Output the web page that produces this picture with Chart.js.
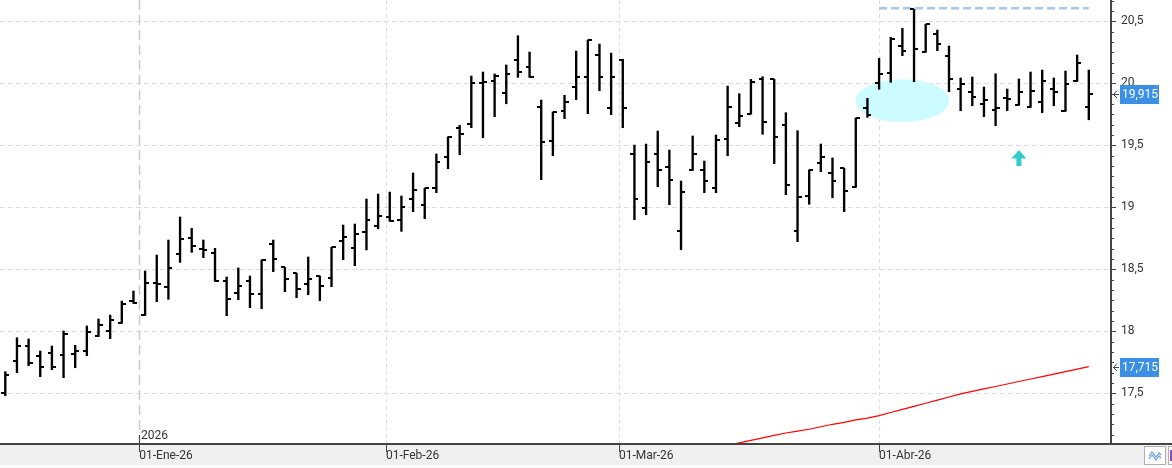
<!DOCTYPE html>
<html lang="es">
<head>
  <meta charset="UTF-8"/>
  <title>Barras OHLC con media móvil</title>
  <script src="https://cdn.jsdelivr.net/npm/chart.js"></script>
  <style>
    * { box-sizing: border-box; margin: 0; padding: 0; }
    body { background: #fff; }
    #wrap { position: relative; width: 1172px; height: 468px; }
  </style>
</head>
<body>
  <div id="wrap"><canvas id="chart"></canvas></div>

  <script>
    // one bar per trading session, index 0 = last sessions of Dec-25
    const opens = [
      17.500, 17.758, 17.881, 17.801, 17.823, 17.806, 17.815, 17.839, 17.962, 18.000,
      18.065, 18.244, 18.129, 18.390, 18.355, 18.623, 18.750, 18.661, 18.629, 18.403,
      18.306, 18.403, 18.298, 18.702, 18.516, 18.468, 18.379, 18.446, 18.427, 18.726,
      18.669, 18.801, 18.847, 18.919, 18.895, 19.065, 19.019, 19.153, 19.406, 19.637,
      19.669, 20.002, 20.016, 19.922, 20.188, 20.129, 19.806, 19.532, 19.777, 19.968,
      20.048, 20.231, 19.798, 20.190, 19.427, 18.994, 19.427, 19.323, 18.806, 19.298,
      19.298, 19.153, 19.548, 19.677, 19.752, 20.032, 20.032, 19.661, 18.806, 19.089,
      19.355, 19.274, 19.315, 19.166, 19.798, 20.002, 20.083, 20.298, 20.597, 20.250,
      20.398, 20.218, 19.952, 19.927, 19.831, 19.782, 19.879, 19.823, 19.806, 19.847,
      19.952, 19.774, 20.016, 19.806
    ];
    const highs = [
      17.674, 17.948, 17.938, 17.841, 17.881, 18.002, 17.887, 18.043, 18.099, 18.131,
      18.244, 18.325, 18.486, 18.615, 18.736, 18.922, 18.831, 18.736, 18.669, 18.438,
      18.511, 18.446, 18.575, 18.736, 18.516, 18.468, 18.599, 18.446, 18.677, 18.857,
      18.865, 19.067, 19.107, 19.123, 19.091, 19.277, 19.153, 19.430, 19.569, 19.661,
      20.059, 20.091, 20.075, 20.148, 20.384, 20.252, 19.865, 19.769, 19.903, 20.260,
      20.349, 20.317, 20.244, 20.194, 19.502, 19.510, 19.615, 19.462, 19.212, 19.575,
      19.373, 19.583, 19.978, 19.916, 20.032, 20.053, 20.032, 19.763, 19.618, 19.301,
      19.510, 19.398, 19.315, 19.720, 19.879, 20.202, 20.371, 20.444, 20.597, 20.476,
      20.430, 20.301, 20.043, 20.051, 19.970, 20.077, 19.954, 20.035, 20.091, 20.107,
      20.043, 20.099, 20.228, 20.107
    ];
    const lows = [
      17.481, 17.666, 17.723, 17.634, 17.690, 17.626, 17.706, 17.803, 17.957, 17.940,
      18.065, 18.226, 18.129, 18.239, 18.258, 18.556, 18.637, 18.594, 18.403, 18.126,
      18.255, 18.190, 18.182, 18.481, 18.319, 18.271, 18.295, 18.247, 18.360, 18.577,
      18.529, 18.656, 18.827, 18.887, 18.806, 18.965, 18.908, 19.118, 19.311, 19.424,
      19.642, 19.561, 19.731, 19.835, 20.048, 20.048, 19.223, 19.416, 19.715, 19.868,
      19.755, 19.940, 19.747, 19.642, 18.900, 18.940, 19.166, 19.021, 18.658, 19.298,
      19.118, 19.118, 19.416, 19.650, 19.752, 19.589, 19.352, 19.102, 18.723, 19.024,
      19.287, 19.077, 18.965, 19.161, 19.726, 19.952, 20.008, 20.223, 20.013, 20.250,
      20.263, 19.932, 19.779, 19.819, 19.731, 19.658, 19.779, 19.823, 19.806, 19.763,
      19.819, 19.774, 20.016, 19.706
    ];
    const closes = [
      17.648, 17.881, 17.742, 17.710, 17.710, 17.976, 17.839, 17.992, 18.048, 18.089,
      18.218, 18.226, 18.387, 18.379, 18.508, 18.742, 18.685, 18.655, 18.403, 18.258,
      18.363, 18.298, 18.575, 18.581, 18.422, 18.341, 18.422, 18.363, 18.677, 18.758,
      18.782, 18.895, 18.927, 18.892, 19.000, 19.137, 19.153, 19.363, 19.569, 19.589,
      20.000, 20.008, 20.056, 20.075, 20.089, 20.048, 19.524, 19.769, 19.847, 20.048,
      20.349, 20.051, 20.048, 19.798, 19.065, 19.363, 19.301, 19.218, 19.121, 19.427,
      19.210, 19.540, 19.806, 19.734, 20.008, 19.688, 19.565, 19.177, 19.083, 19.301,
      19.406, 19.210, 19.129, 19.720, 19.742, 20.073, 20.355, 20.258, 20.274, 20.476,
      20.317, 20.032, 19.994, 19.887, 19.863, 19.798, 19.871, 19.927, 19.935, 20.016,
      19.927, 19.994, 20.161, 19.915
    ];

    // long moving average, only visible from session 62 on (below the axis before)
    const maStart = 62;
    const maValues = [
      17.080, 17.100, 17.120, 17.140, 17.160, 17.180, 17.195, 17.210, 17.230, 17.250,
      17.265, 17.285, 17.300, 17.320, 17.345, 17.370, 17.395, 17.420, 17.445, 17.470,
      17.495, 17.515, 17.535, 17.555, 17.575, 17.595, 17.615, 17.635, 17.655, 17.675,
      17.695, 17.715
    ];

    // month ticks sit on calendar position between sessions
    const monthTicks = [11.5, 32.67, 52.67, 75];
    const monthLabels = ['01-Ene-26', '01-Feb-26', '01-Mar-26', '01-Abr-26'];
    const yearLabel = '2026';
    const yTicks = [17.5, 18, 18.5, 19, 19.5, 20, 20.5];

    // drawn marks in data units
    const resistance = { from: 75, to: 93, value: 20.605 };
    const zone = { x: 77, y: 19.86, dx: 4.03, dy: 0.173 };
    const upArrow = { x: 87, top: 19.462, bottom: 19.333 };

    const FONT_FAMILY = "Roboto, 'Open Sans', sans-serif";
    const fmt = v => String(v).replace('.', ',');

    function tickImage(side) {
      const c = document.createElement('canvas');
      c.width = 8; c.height = 2;
      const g = c.getContext('2d');
      g.fillStyle = '#000';
      g.fillRect(side === 'left' ? 0 : 4, 0, 4, 2);
      return c;
    }

    const idx = closes.map((_, i) => i);

    const decor = {
      id: 'decor',
      beforeDraw(chart) {
        const { ctx, width, height, chartArea: a } = chart;
        ctx.save();
        ctx.fillStyle = '#fff';
        ctx.fillRect(0, 0, width, height);
        ctx.fillStyle = '#f0f0f0';
        ctx.fillRect(0, a.bottom, width, 21);
        ctx.fillStyle = '#fafafa';
        ctx.fillRect(0, a.bottom + 21, width, height - a.bottom - 21);
        ctx.restore();
      },
      beforeDatasetsDraw(chart) {
        const { ctx, chartArea: a, scales: { x, y } } = chart;
        ctx.save();
        // horizontal grid
        ctx.lineWidth = 1;
        ctx.strokeStyle = '#dddddd';
        ctx.setLineDash([5, 3]);
        yTicks.forEach(v => {
          const py = Math.round(y.getPixelForValue(v)) + 0.5;
          ctx.beginPath(); ctx.moveTo(a.left, py); ctx.lineTo(a.right, py); ctx.stroke();
        });
        // month grid, the first one marks the year change
        monthTicks.forEach((v, i) => {
          const px = Math.round(x.getPixelForValue(v)) + 0.5;
          if (i === 0) {
            ctx.strokeStyle = '#cbcbcb'; ctx.lineWidth = 1.5; ctx.setLineDash([10, 5]);
          } else {
            ctx.strokeStyle = '#dedede'; ctx.lineWidth = 1; ctx.setLineDash([4, 3]);
          }
          ctx.beginPath(); ctx.moveTo(px, a.top); ctx.lineTo(px, a.bottom); ctx.stroke();
        });
        // highlighted zone
        const cx = x.getPixelForValue(zone.x), cy = y.getPixelForValue(zone.y);
        const rx = x.getPixelForValue(zone.x + zone.dx) - cx;
        const ry = cy - y.getPixelForValue(zone.y + zone.dy);
        ctx.fillStyle = '#ccfcff';
        ctx.beginPath(); ctx.ellipse(cx, cy, rx, ry, 0, 0, Math.PI * 2); ctx.fill();
        ctx.restore();
      },
      afterDraw(chart) {
        const { ctx, width, chartArea: a, scales: { x, y } } = chart;
        ctx.save();
        // axis lines
        ctx.fillStyle = '#444';
        ctx.fillRect(a.right, a.top, 2, a.bottom - a.top);
        ctx.fillRect(0, a.bottom - 1, width, 2);
        // y tick marks every 1/12
        for (let k = Math.ceil(y.min * 12); k <= Math.floor(y.max * 12); k++) {
          const py = Math.round(y.getPixelForValue(k / 12));
          ctx.fillRect(a.right, py, k % 6 === 0 ? 6 : 4, 1);
        }
        // x tick marks
        monthTicks.forEach(v => {
          const px = Math.round(x.getPixelForValue(v));
          ctx.fillRect(px, a.bottom, 1, 8);
        });
        const yearX = Math.round(x.getPixelForValue(monthTicks[0]));
        ctx.fillRect(yearX, a.bottom - 9, 1, 9);
        ctx.font = '12px ' + FONT_FAMILY;
        ctx.fillStyle = '#333';
        ctx.textAlign = 'left';
        ctx.textBaseline = 'middle';
        ctx.fillText(yearLabel, yearX + 2, a.bottom - 8);

        // arrow
        const ax = x.getPixelForValue(upArrow.x);
        const at = y.getPixelForValue(upArrow.top), ab = y.getPixelForValue(upArrow.bottom);
        ctx.fillStyle = '#33cccc';
        ctx.beginPath();
        ctx.moveTo(ax, at);
        ctx.lineTo(ax + 7.5, at + 8.5);
        ctx.lineTo(ax - 7.5, at + 8.5);
        ctx.closePath(); ctx.fill();
        ctx.fillRect(ax - 2.5, at + 8, 5, ab - at - 8);

        // last value tags
        const tag = (value) => {
          const py = Math.round(y.getPixelForValue(value));
          ctx.fillStyle = '#3a8fe6';
          ctx.fillRect(a.right + 10, py - 9, 39, 19);
          ctx.fillStyle = '#fff';
          ctx.font = '12px ' + FONT_FAMILY;
          ctx.textBaseline = 'middle';
          ctx.fillText(fmt(value), a.right + 12, py + 1);
          ctx.strokeStyle = '#444';
          ctx.lineWidth = 1;
          ctx.beginPath();
          ctx.moveTo(a.right + 7, py - 3.5); ctx.lineTo(a.right + 3.5, py + 0.5); ctx.lineTo(a.right + 7, py + 4);
          ctx.moveTo(a.right + 3.5, py + 0.5); ctx.lineTo(a.right + 9, py + 0.5);
          ctx.stroke();
        };
        tag(closes[closes.length - 1]);
        tag(maValues[maValues.length - 1]);

        // small toolbar buttons bottom right
        ctx.fillStyle = '#fff';
        ctx.fillRect(1144, 446, 22, 19);
        ctx.strokeStyle = '#b0b0b0';
        ctx.strokeRect(1144.5, 446.5, 21, 18);
        ctx.strokeStyle = '#6a9fd8';
        ctx.lineWidth = 1.2;
        ctx.beginPath();
        ctx.moveTo(1149, 456); ctx.lineTo(1152, 452); ctx.lineTo(1156, 457); ctx.lineTo(1159, 453); ctx.lineTo(1161, 455);
        ctx.moveTo(1149, 459); ctx.lineTo(1152, 455); ctx.lineTo(1156, 460); ctx.lineTo(1159, 456); ctx.lineTo(1161, 458);
        ctx.stroke();
        ctx.fillStyle = '#fff';
        ctx.fillRect(1168, 446, 4, 19);
        ctx.strokeStyle = '#b0b0b0';
        ctx.lineWidth = 1;
        ctx.strokeRect(1168.5, 446.5, 6, 18);
        ctx.fillStyle = '#8a4fc8';
        ctx.fillRect(1170, 450, 2, 11);
        ctx.restore();
      }
    };

    new Chart(document.getElementById('chart'), {
      type: 'line',
      data: {
        datasets: [
          {
            // open ticks
            data: idx.map(i => ({ x: i, y: opens[i] })),
            showLine: false,
            pointStyle: tickImage('left'),
            pointRadius: 4
          },
          {
            // close ticks
            data: idx.map(i => ({ x: i, y: closes[i] })),
            showLine: false,
            pointStyle: tickImage('right'),
            pointRadius: 4
          },
          {
            type: 'bar',
            data: idx.map(i => ({ x: i, y: [lows[i], highs[i]] })),
            backgroundColor: '#000',
            borderWidth: 0,
            barThickness: 1.7
          },
          {
            data: [{ x: resistance.from, y: resistance.value }, { x: resistance.to, y: resistance.value }],
            borderColor: '#a8c7ee',
            borderWidth: 2.5,
            borderDash: [8, 4],
            pointRadius: 0
          },
          {
            data: maValues.map((v, k) => ({ x: maStart + k, y: v })),
            borderColor: '#ff0000',
            borderWidth: 1.2,
            pointRadius: 0,
            tension: 0
          }
        ]
      },
      options: {
        responsive: true,
        maintainAspectRatio: false,
        animation: false,
        events: [],
        layout: { padding: 0, autoPadding: false },
        plugins: { legend: { display: false }, tooltip: { enabled: false } },
        scales: {
          x: {
            type: 'linear',
            position: 'bottom',
            min: -0.455,
            max: 94.82,
            bounds: 'data',
            offset: false,
            afterBuildTicks: s => { s.ticks = monthTicks.map(v => ({ value: v })); },
            afterFit: s => { s.height = 24; s.paddingLeft = 0; s.paddingRight = 0; },
            grid: { display: false, drawTicks: false, offset: false },
            border: { display: false },
            ticks: {
              autoSkip: false,
              maxRotation: 0,
              align: 'start',
              padding: 5,
              color: '#333',
              font: { family: FONT_FAMILY, size: 12 },
              callback: (v, i) => monthLabels[i]
            }
          },
          y: {
            type: 'linear',
            position: 'right',
            min: 17.091,
            max: 20.672,
            bounds: 'data',
            afterBuildTicks: s => { s.ticks = yTicks.map(v => ({ value: v })); },
            afterFit: s => { s.width = 62; s.paddingTop = 0; s.paddingBottom = 0; },
            grid: { display: false, drawTicks: false },
            border: { display: false },
            ticks: {
              padding: 11,
              color: '#333',
              font: { family: FONT_FAMILY, size: 12 },
              callback: v => fmt(v)
            }
          }
        }
      },
      plugins: [decor]
    });
  </script>
</body>
</html>
